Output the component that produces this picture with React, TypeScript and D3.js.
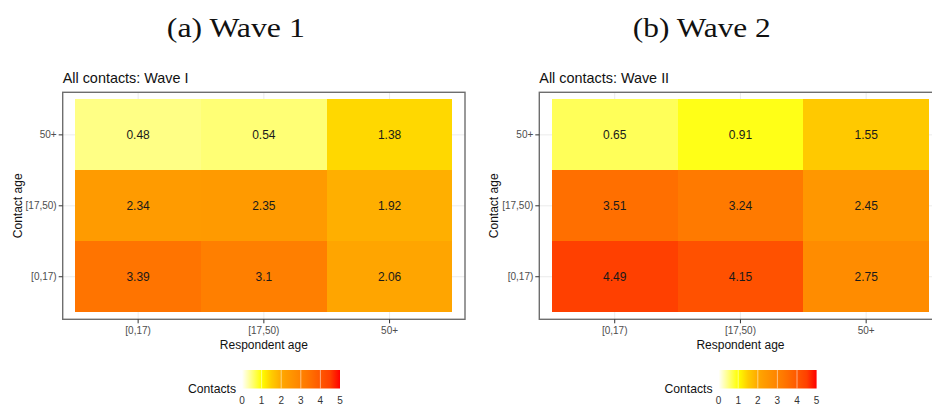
import React, { useEffect, useRef } from "react";
import * as d3 from "d3";

// respondent age on x, contact age on y (bottom to top)
const respondentAge = ["[0,17)", "[17,50)", "50+"];
const contactAge = ["[0,17)", "[17,50)", "50+"];

// rows follow contactAge, columns follow respondentAge
const wave1 = [
  [3.39, 3.1, 2.06],
  [2.34, 2.35, 1.92],
  [0.48, 0.54, 1.38],
];
const wave2 = [
  [4.49, 4.15, 2.75],
  [3.51, 3.24, 2.45],
  [0.65, 0.91, 1.55],
];

const legendTicks = [0, 1, 2, 3, 4, 5];
const panelTitles = ["All contacts: Wave I", "All contacts: Wave II"];
const captions = ["(a) Wave 1", "(b) Wave 2"];

const W = 932,
  H = 408;
const SANS = "'Liberation Sans', Arial, sans-serif";

const fill = d3
  .scaleLinear<string>()
  .domain([0, 1, 1.5, 2.06, 2.75, 3.4, 4.5, 5])
  .range(["#ffffff", "#ffff00", "#ffcc00", "#ffa500", "#ff8c00", "#ff7400", "#ff4000", "#ff0000"])
  .interpolate(d3.interpolateRgb)
  .clamp(true);

const App = () => {
  const ref = useRef<SVGSVGElement>(null);

  useEffect(() => {
    const svg = d3.select(ref.current);
    svg.selectAll("*").remove();

    const defs = svg.append("defs");
    const grad = defs
      .append("linearGradient")
      .attr("id", "contactsGrad")
      .attr("x1", "0%")
      .attr("x2", "100%");
    d3.range(0, 5.01, 0.25).forEach((v) => {
      grad.append("stop").attr("offset", `${(v / 5) * 100}%`).attr("stop-color", fill(v));
    });

    [wave1, wave2].forEach((wave, i) => {
      const dx = i * 476.6;
      const left = 62.7 + dx,
        right = 465 + dx,
        top = 92.3,
        bottom = 319.3;

      const x = d3.scaleBand().domain(respondentAge).range([left, right]).paddingOuter(0.1);
      const y = d3.scaleBand().domain(contactAge).range([bottom, top]).paddingOuter(0.1);

      // caption
      svg
        .append("text")
        .attr("x", 235.8 + i * 466)
        .attr("y", 37)
        .attr("text-anchor", "middle")
        .attr("font-family", "'Liberation Serif', 'DejaVu Serif', serif")
        .attr("font-size", 27)
        .attr("textLength", 138)
        .attr("lengthAdjust", "spacingAndGlyphs")
        .attr("fill", "#111")
        .text(captions[i]);

      // panel title
      svg
        .append("text")
        .attr("x", left)
        .attr("y", 83)
        .attr("font-family", SANS)
        .attr("font-size", 14.4)
        .attr("fill", "#111")
        .text(panelTitles[i]);

      const g = svg.append("g");
      g.append("rect")
        .attr("x", left)
        .attr("y", top)
        .attr("width", right - left)
        .attr("height", bottom - top)
        .attr("fill", "#fff");

      // grid
      respondentAge.forEach((c) => {
        const cx = x(c)! + x.bandwidth() / 2;
        g.append("line")
          .attr("x1", cx)
          .attr("x2", cx)
          .attr("y1", top)
          .attr("y2", bottom)
          .attr("stroke", "#ebebeb")
          .attr("stroke-width", 1);
      });
      contactAge.forEach((c) => {
        const cy = y(c)! + y.bandwidth() / 2;
        g.append("line")
          .attr("x1", left)
          .attr("x2", right)
          .attr("y1", cy)
          .attr("y2", cy)
          .attr("stroke", "#ebebeb")
          .attr("stroke-width", 1);
      });

      // tiles
      wave.forEach((row, r) => {
        row.forEach((v, c) => {
          g.append("rect")
            .attr("x", x(respondentAge[c])!)
            .attr("y", y(contactAge[r])!)
            .attr("width", x.bandwidth())
            .attr("height", y.bandwidth())
            .attr("shape-rendering", "crispEdges")
            .attr("fill", fill(v));
        });
      });
      wave.forEach((row, r) => {
        row.forEach((v, c) => {
          g.append("text")
            .attr("x", x(respondentAge[c])! + x.bandwidth() / 2)
            .attr("y", y(contactAge[r])! + y.bandwidth() / 2)
            .attr("dy", "0.36em")
            .attr("text-anchor", "middle")
            .attr("font-family", SANS)
            .attr("font-size", 12)
            .attr("fill", "#1a1a1a")
            .text(String(v));
        });
      });

      // border
      g.append("rect")
        .attr("x", left)
        .attr("y", top)
        .attr("width", right - left)
        .attr("height", bottom - top)
        .attr("fill", "none")
        .attr("stroke", "#6e6e6e")
        .attr("stroke-width", 1.4);

      // ticks and labels
      respondentAge.forEach((c) => {
        const cx = x(c)! + x.bandwidth() / 2;
        g.append("line")
          .attr("x1", cx)
          .attr("x2", cx)
          .attr("y1", bottom)
          .attr("y2", bottom + 4)
          .attr("stroke", "#333");
        g.append("text")
          .attr("x", cx)
          .attr("y", 334)
          .attr("text-anchor", "middle")
          .attr("font-family", SANS)
          .attr("font-size", 10)
          .attr("fill", "#4d4d4d")
          .text(c);
      });
      contactAge.forEach((c) => {
        const cy = y(c)! + y.bandwidth() / 2;
        g.append("line")
          .attr("x1", left - 4)
          .attr("x2", left)
          .attr("y1", cy)
          .attr("y2", cy)
          .attr("stroke", "#333");
        g.append("text")
          .attr("x", left - 6)
          .attr("y", cy)
          .attr("dy", "0.35em")
          .attr("text-anchor", "end")
          .attr("font-family", SANS)
          .attr("font-size", 10)
          .attr("fill", "#4d4d4d")
          .text(c);
      });

      // axis titles
      g.append("text")
        .attr("x", (left + right) / 2)
        .attr("y", 349)
        .attr("text-anchor", "middle")
        .attr("font-family", SANS)
        .attr("font-size", 12)
        .attr("fill", "#111")
        .text("Respondent age");
      g.append("text")
        .attr("transform", `translate(${21.5 + dx},${(top + bottom) / 2}) rotate(-90)`)
        .attr("text-anchor", "middle")
        .attr("font-family", SANS)
        .attr("font-size", 12)
        .attr("fill", "#111")
        .text("Contact age");

      // legend
      const lx = d3.scaleLinear().domain([0, 5]).range([242 + dx, 340 + dx]);
      const leg = svg.append("g");
      leg
        .append("text")
        .attr("x", 236 + dx)
        .attr("y", 393)
        .attr("text-anchor", "end")
        .attr("font-family", SANS)
        .attr("font-size", 12.2)
        .attr("fill", "#111")
        .text("Contacts");
      leg
        .append("rect")
        .attr("x", lx(0))
        .attr("y", 370)
        .attr("width", lx(5) - lx(0))
        .attr("height", 18.5)
        .attr("fill", "url(#contactsGrad)");
      legendTicks.forEach((t) => {
        if (t > 0 && t < 5) {
          leg
            .append("line")
            .attr("x1", lx(t))
            .attr("x2", lx(t))
            .attr("y1", 370)
            .attr("y2", 388.5)
            .attr("stroke", "#fff")
            .attr("stroke-opacity", 0.5)
            .attr("stroke-width", 1);
        }
        leg
          .append("text")
          .attr("x", lx(t))
          .attr("y", 404)
          .attr("text-anchor", "middle")
          .attr("font-family", SANS)
          .attr("font-size", 10)
          .attr("fill", "#333")
          .text(t);
      });
    });
  }, []);

  return (
    <svg
      ref={ref}
      width={W}
      height={H}
      style={{ position: "absolute", left: 0, top: 0, background: "#fff" }}
    />
  );
};

export default App;
